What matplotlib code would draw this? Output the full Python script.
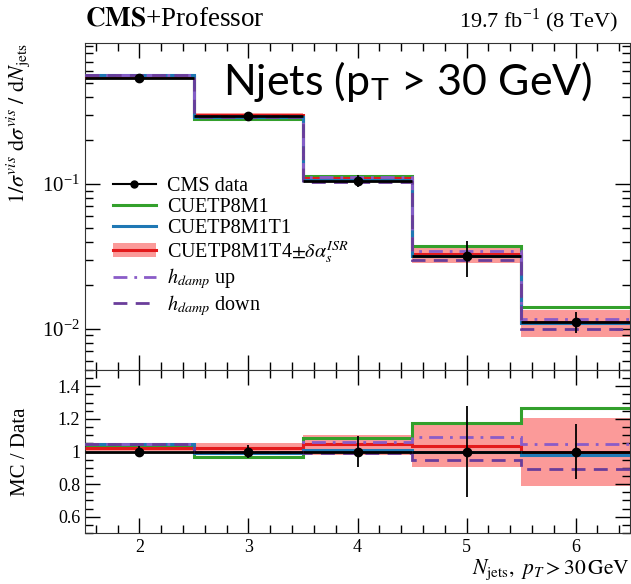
##Njets ratio plot, CMS+Professor tunes
import numpy as np
import matplotlib as mpl
import matplotlib.pyplot as plt
from matplotlib.lines import Line2D
from matplotlib.patches import Patch

mpl.rcParams['font.family'] = 'Liberation Serif'
mpl.rcParams['mathtext.fontset'] = 'stix'

##bins and data
edges = [1.5, 2.5, 3.5, 4.5, 5.5, 6.5]
njets = [2, 3, 4, 5, 6]
data = [0.54, 0.293, 0.105, 0.0316, 0.0112]
data_err = [0.035, 0.04, 0.095, 0.28, 0.17]   # relative

##MC / data ratios
r_m1 = [1.036, 0.965, 1.083, 1.174, 1.265]
r_m1t1 = [1.047, 0.99, 1.012, 1.0, 0.976]
r_t4 = [1.02, 1.022, 1.048, 1.036, 0.994]
r_t4_up = [1.035, 1.05, 1.103, 1.178, 1.204]
r_t4_dn = [1.005, 1.0, 0.98, 0.905, 0.79]
r_hup = [1.045, 1.0, 1.059, 1.087, 1.048]
r_hdn = [1.047, 0.995, 0.99, 0.947, 0.895]

c_green = '#33a02c'
c_blue = '#1f78b4'
c_red = '#e31a1c'
c_band = '#fb9a99'
c_hup = '#8a5cc8'
c_hdn = '#6a3d9a'

data = np.array(data)
fig = plt.figure(figsize=(6.31, 5.84), dpi=100)
ax = fig.add_axes([85/631, 214/584, 545/631, 327/584])
rx = fig.add_axes([85/631, 51/584, 545/631, 163/584], sharex=ax)

for a, scale in [(ax, data), (rx, np.ones(5))]:
    a.stairs(np.array(r_t4_up)*scale, edges, baseline=np.array(r_t4_dn)*scale,
             fill=True, color=c_band, lw=0, zorder=1)
    a.stairs(np.array(r_m1)*scale, edges, baseline=None, color=c_green, lw=2.2, zorder=2)
    a.stairs(np.array(r_t4)*scale, edges, baseline=None, color=c_red, lw=2.2, zorder=3)
    a.stairs(np.array(r_m1t1)*scale, edges, baseline=None, color=c_blue, lw=2.2, zorder=4)
    a.stairs(np.array(r_hup)*scale, edges, baseline=None, color=c_hup, lw=2.0,
             ls=(0, (5, 2.5, 1, 2.5)), zorder=5)
    a.stairs(np.array(r_hdn)*scale, edges, baseline=None, color=c_hdn, lw=2.0,
             ls=(0, (5, 3)), zorder=5)
    a.hlines(scale, edges[:-1], edges[1:], color='black', lw=2.0, zorder=6)
    a.errorbar(njets, scale, yerr=np.array(data_err)*scale, fmt='o', color='black',
               ms=6, elinewidth=1.3, capsize=0, zorder=7)

ax.set_yscale('log')
ax.set_ylim(0.0052, 0.94)
ax.set_xlim(1.5, 6.5)
rx.set_ylim(0.5, 1.5)
rx.set_yticks([0.6, 0.8, 1.0, 1.2, 1.4])
rx.set_yticklabels(['0.6', '0.8', '1', '1.2', '1.4'])
rx.yaxis.set_minor_locator(mpl.ticker.MultipleLocator(0.05))
rx.set_xticks(njets)
rx.xaxis.set_minor_locator(mpl.ticker.MultipleLocator(0.2))
ax.tick_params(labelbottom=False)
ax.yaxis.set_major_locator(mpl.ticker.LogLocator(base=10, numticks=10))
ax.yaxis.set_minor_locator(mpl.ticker.LogLocator(base=10, subs=np.arange(2, 10), numticks=20))
ax.yaxis.set_minor_formatter(mpl.ticker.NullFormatter())

for a in (ax, rx):
    a.tick_params(which='both', direction='in', top=True, right=True, labelsize=13)
    a.tick_params(which='major', length=11, width=1)
    a.tick_params(which='minor', length=5.5, width=1)
    for s in a.spines.values():
        s.set_color('#333333')
ax.tick_params(axis='y', labelsize=15)
rx.tick_params(axis='x', pad=4)

ax.set_ylabel(r'$1/\sigma^{vis}\ \mathrm{d}\sigma^{vis}\ /\ \mathrm{d}N_{\mathrm{jets}}$',
              fontsize=16, loc='top')
rx.set_ylabel('MC / Data', fontsize=15)
ax.yaxis.set_label_coords(-0.097, 1.0)
rx.yaxis.set_label_coords(-0.1, 0.5)
fig.text(630/631, 1 - 574/584, r'$N_{\mathrm{jets}},\ p_T > 30\,\mathrm{GeV}$',
         fontsize=15.5, ha='right', va='baseline')

fig.text(85/631, 1 - 25/584, r'$\mathbf{CMS}$+Professor', fontsize=19.5)
fig.text(618/631, 1 - 27/584, r'19.7 fb$^{\mathregular{-1}}$ (8 TeV)', fontsize=16, ha='right')
fig.text(593/631, 1 - 95/584, r'Njets (p$_\mathregular{T}$ > 30 GeV)', fontsize=31,
         family='Lato', ha='right')

##legend
handles = [
    Line2D([], [], color='black', lw=1.5, marker='o', ms=5),
    Line2D([], [], color=c_green, lw=2.2),
    Line2D([], [], color=c_blue, lw=2.2),
    (Patch(color=c_band, lw=0), Line2D([], [], color=c_red, lw=2.2)),
    Line2D([], [], color=c_hup, lw=2.0, ls=(0, (5, 2.5, 1, 2.5))),
    Line2D([], [], color=c_hdn, lw=2.0, ls=(0, (5, 3))),
]
labels = ['CMS data', 'CUETP8M1', 'CUETP8M1T1',
          r'CUETP8M1T4$\pm\delta\alpha_s^{ISR}$',
          r'$h_{damp}$ up', r'$h_{damp}$ down']
ax.legend(handles, labels, loc='upper left', bbox_to_anchor=(0.051, 0.59),
          frameon=False, fontsize=14.5, handlelength=2.15, labelspacing=0.08,
          handletextpad=0.55, borderpad=0, borderaxespad=0)

fig.savefig('out.png', dpi=100)
